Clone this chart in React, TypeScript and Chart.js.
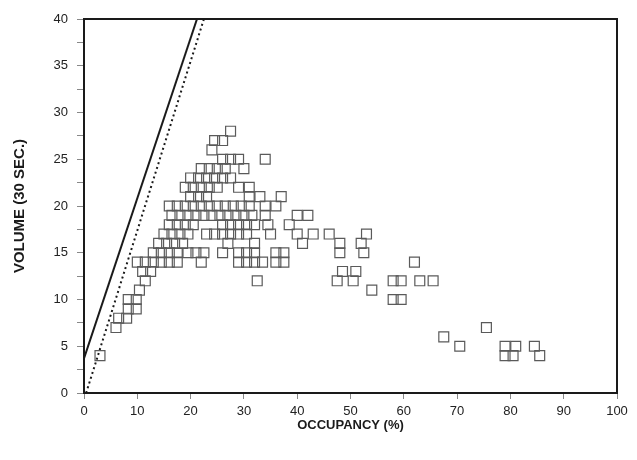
import React, { useEffect, useRef } from "react";
import { Chart, registerables } from "chart.js";

Chart.register(...registerables);

// Observed volume levels (30-sec counts) and the occupancy (%) readings at each level
const volumeLevels = [4, 5, 6, 7, 8, 9, 10, 11, 12, 13, 14, 15, 16, 17, 18, 19, 20, 21, 22, 23, 24, 25, 26, 27, 28];
const occupancyByLevel: number[][] = [
  [3, 79, 80.5, 85.5],
  [70.5, 79, 81, 84.5],
  [67.5],
  [6, 75.5],
  [6.5, 8],
  [8.3, 9.8],
  [8.3, 9.8, 58, 59.5],
  [10.4, 54],
  [11.5, 32.5, 47.5, 50.5, 58, 59.5, 63, 65.5],
  [11, 12.5, 48.5, 51],
  [10, 11.5, 13, 14.5, 16, 17.5, 22, 29, 30.5, 32, 33.5, 36, 37.5, 62],
  [13, 14.5, 16, 17.5, 19.5, 21, 22.5, 26, 29, 30.5, 32, 36, 37.5, 48, 52.5],
  [14, 15.5, 17, 18.5, 27, 32, 41, 48, 52],
  [15, 16.5, 18, 19.5, 23, 24.5, 26, 27.5, 29, 30.5, 35, 40, 43, 46, 53],
  [16, 17.5, 19, 20.5, 26, 27.5, 29, 30.5, 32, 34.5, 38.5],
  [16.5, 18, 19.5, 21, 22.5, 24, 25.5, 27, 28.5, 30, 31.5, 34, 40, 42],
  [16, 17.5, 19, 20.5, 22, 23.5, 25, 26.5, 28, 29.5, 31, 34, 36],
  [20, 21.5, 23, 31, 33, 37],
  [19, 20.5, 22, 23.5, 25, 29, 31],
  [20, 21.5, 23, 24.5, 26, 27.5],
  [22, 23.5, 25, 26.5, 30],
  [26, 27.5, 29, 34],
  [24],
  [24.5, 26],
  [27.5],
];

// Reference lines (endpoints in data units)
const solidLineOcc = [0, 21.2];
const solidLineVol = [3.7, 40];
const dottedLineOcc = [0.4, 22.5];
const dottedLineVol = [0, 40];

const xTickMax = 100;
const yTickMax = 40;

const frame = {
  id: "frame",
  afterDatasetsDraw(chart: any) {
    const { ctx, chartArea } = chart;
    ctx.save();
    ctx.strokeStyle = "#1a1a1a";
    ctx.lineWidth = 2;
    ctx.strokeRect(chartArea.left, chartArea.top, chartArea.right - chartArea.left, chartArea.bottom - chartArea.top);
    ctx.restore();
  },
};

export default function App() {
  const ref = useRef<HTMLCanvasElement>(null);

  useEffect(() => {
    if (!ref.current) return;
    const points: { x: number; y: number }[] = [];
    volumeLevels.forEach((v, i) => {
      occupancyByLevel[i].forEach((o) => points.push({ x: o, y: v }));
    });
    const font = "'Liberation Sans', Arial, Helvetica, sans-serif";
    const chart = new Chart(ref.current, {
      type: "scatter",
      data: {
        datasets: [
          {
            data: points,
            pointStyle: "rect",
            pointRadius: 7,
            pointBorderWidth: 1.2,
            pointBorderColor: "#5a5a5a",
            pointBackgroundColor: "rgba(0,0,0,0)",
            showLine: false,
          },
          {
            data: solidLineOcc.map((x, i) => ({ x, y: solidLineVol[i] })),
            showLine: true,
            borderColor: "#1a1a1a",
            borderWidth: 2,
            pointRadius: 0,
          },
          {
            data: dottedLineOcc.map((x, i) => ({ x, y: dottedLineVol[i] })),
            showLine: true,
            borderColor: "#1a1a1a",
            borderWidth: 2,
            borderDash: [2, 3],
            pointRadius: 0,
          },
        ] as any,
      },
      options: {
        responsive: false,
        animation: false,
        layout: { padding: { top: 19, right: 20, left: 0, bottom: 0 } },
        plugins: { legend: { display: false }, tooltip: { enabled: false } },
        scales: {
          x: {
            type: "linear",
            min: 0,
            max: xTickMax,
            afterFit: (s: any) => {
              s.height = 67;
            },
            ticks: { stepSize: 10, color: "#222", padding: 5, font: { family: font, size: 13 } },
            grid: { drawOnChartArea: false, drawTicks: true, tickLength: 6, color: "#888" },
            border: { display: true, color: "#1a1a1a", width: 2 },
            title: {
              display: true,
              text: "OCCUPANCY (%)",
              color: "#1a1a1a",
              font: { family: font, size: 13, weight: "bold" },
              padding: { top: 0, bottom: 27 },
            },
          },
          y: {
            type: "linear",
            min: 0,
            max: yTickMax,
            afterFit: (s: any) => {
              s.width = 84;
            },
            ticks: {
              stepSize: 2.5,
              autoSkip: false,
              color: "#222",
              padding: 9,
              font: { family: font, size: 13 },
              callback: (v: any) => (Number(v) % 5 === 0 ? String(v) : ""),
            },
            grid: { drawOnChartArea: false, drawTicks: true, tickLength: 7, color: "#888" },
            border: { display: true, color: "#1a1a1a", width: 2 },
            title: {
              display: true,
              text: "VOLUME (30 SEC.)",
              color: "#1a1a1a",
              font: { family: font, size: 15, weight: "bold" },
              padding: { top: 11, bottom: 0 },
            },
          },
        },
      },
      plugins: [frame],
    });
    return () => chart.destroy();
  }, []);

  return (
    <div style={{ position: "absolute", left: 0, top: 0, width: 637, height: 460, background: "#fff" }}>
      <canvas ref={ref} width={637} height={460} />
    </div>
  );
}
